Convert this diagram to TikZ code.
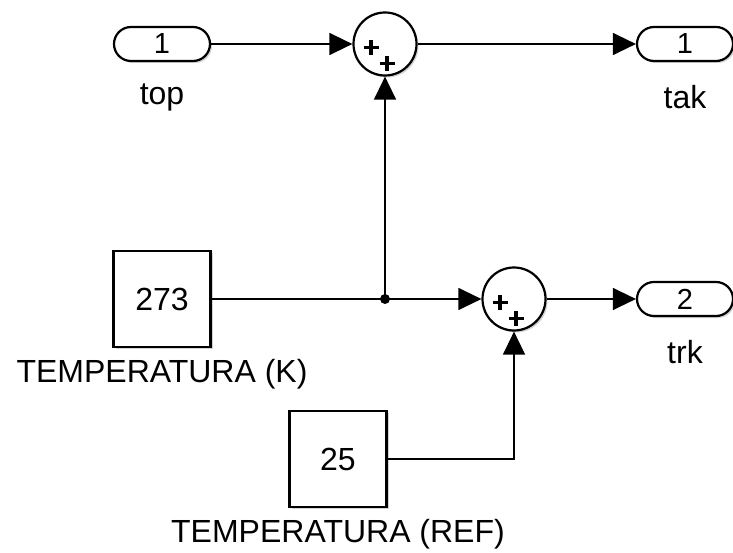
\documentclass[tikz,border=0pt]{standalone}
\usepackage{fontspec}
\setmainfont{Liberation Sans}
\usetikzlibrary{arrows.meta,shadows}
\begin{document}
\begin{tikzpicture}[x=1pt,y=-1pt,
  wire/.style={line width=1.3pt},
  arr/.style={wire,-{Triangle[length=23pt,width=22pt]}},
  blockshadow/.style={drop shadow={opacity=0.35,shadow xshift=2pt,shadow yshift=-2pt,fill=gray}},
  port/.style={draw,line width=2.2pt,fill=white,rounded corners=17pt,minimum width=96pt,minimum height=34pt,inner sep=0pt,blockshadow,font=\fontsize{29}{32}\selectfont},
  constbox/.style={draw,line width=2.2pt,fill=white,minimum width=97pt,minimum height=96pt,inner sep=0pt,blockshadow,font=\fontsize{32}{36}\selectfont},
  sumnode/.style={draw,circle,line width=2.2pt,fill=white,minimum size=63pt,inner sep=0pt,blockshadow},
  lbl/.style={font=\fontsize{32}{36}\selectfont,inner sep=0pt},
  plus/.style={line width=3.2pt}
]
\useasboundingbox (0,0) rectangle (733,553);
% blocks
\node[port] (in1) at (162,44) {1};
\node[lbl] (in1l) at (162,97) {top};
\node[sumnode] (s1) at (385,44) {};
\node[port] (out1) at (685,44) {1};
\node[lbl] (out1l) at (685,97) {tak};
\node[constbox] (c273) at (162,299) {273};
\node[lbl] (c273l) at (162,374) {TEMPERATURA (K)};
\node[sumnode] (s2) at (514,299) {};
\node[port] (out2) at (685,299) {2};
\node[lbl] (out2l) at (685,352) {trk};
\node[constbox] (c25) at (338,459) {25};
\node[lbl] (c25l) at (338,534) {TEMPERATURA (REF)};
% plus signs
\foreach \s in {s1,s2}{
  \draw[plus] (\s.center) ++(-21.5,3.5) -- ++(15,0);
  \draw[plus] (\s.center) ++(-14,-4) -- ++(0,15);
  \draw[plus] (\s.center) ++(-5.5,19.5) -- ++(15,0);
  \draw[plus] (\s.center) ++(2,12) -- ++(0,15);
}
% junction
\coordinate (j) at (385,299);
\coordinate (k) at (514,459);
% connectors
\draw[arr] (in1.east) -- (s1.west);
\draw[arr] (s1.east) -- (out1.west);
\draw[arr] (c273.east) -- (s2.west);
\draw[arr] (j) -- (s1.south);
\draw[arr] (c25.east) -- (k) -- (s2.south);
\draw[arr] (s2.east) -- (out2.west);
\fill (j) circle (5pt);
\end{tikzpicture}
\end{document}
